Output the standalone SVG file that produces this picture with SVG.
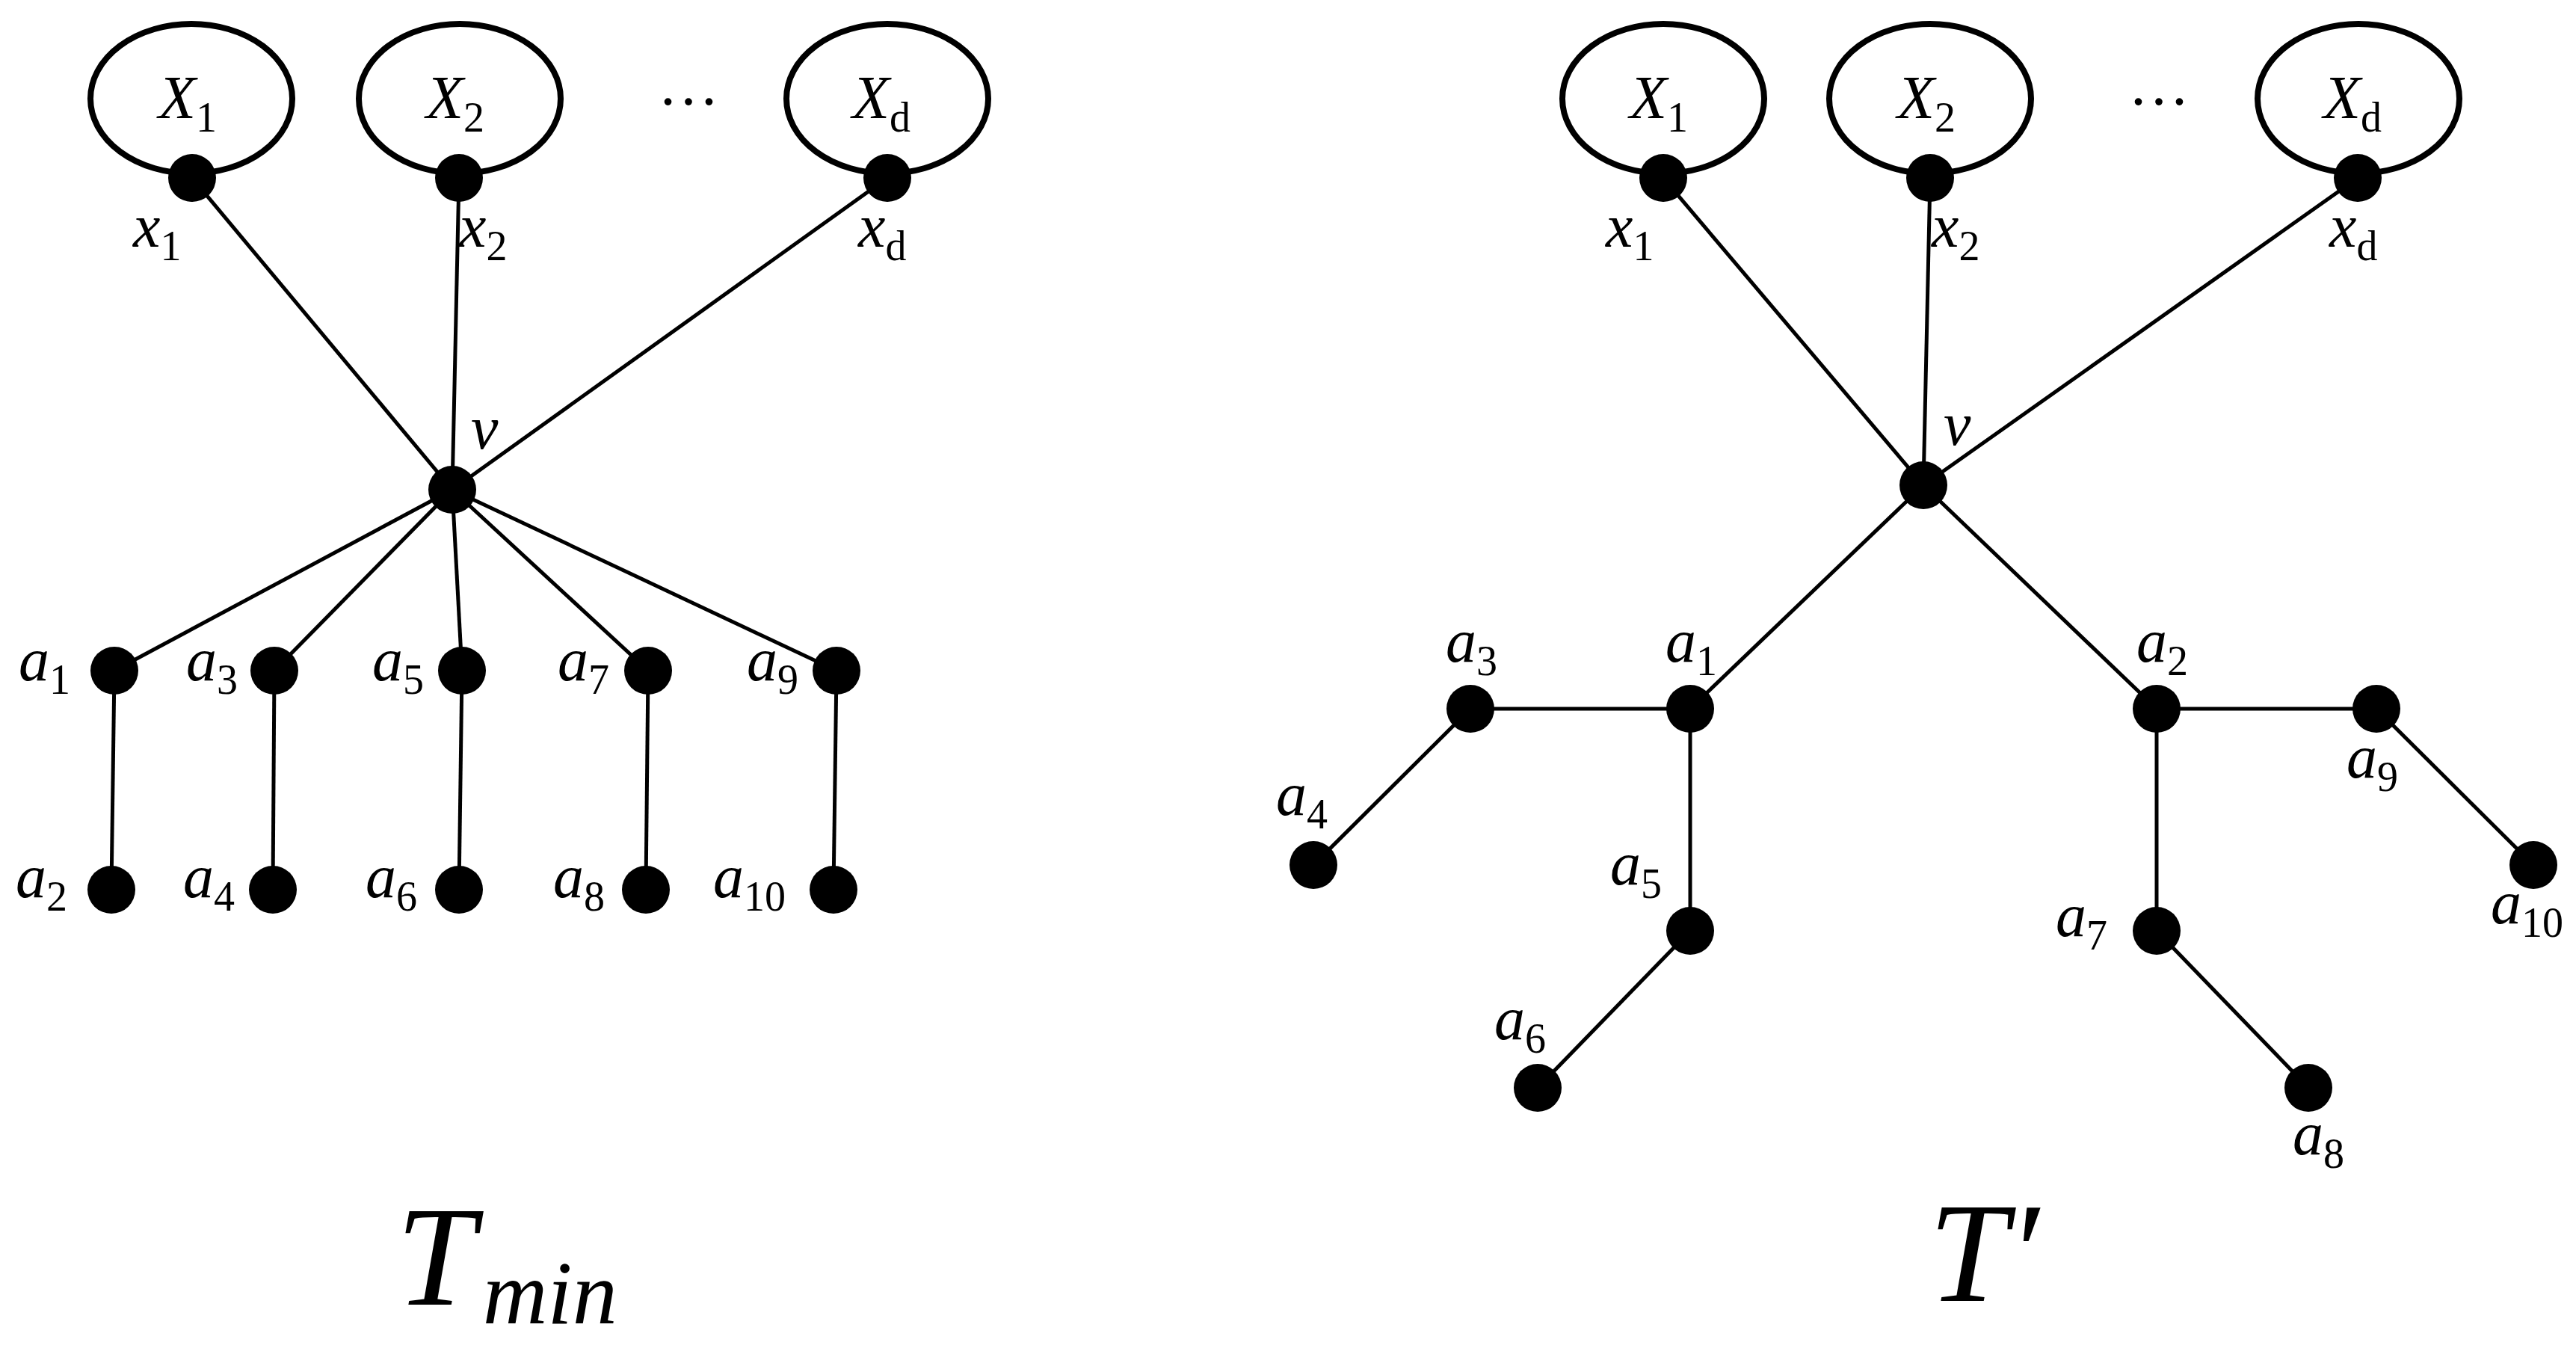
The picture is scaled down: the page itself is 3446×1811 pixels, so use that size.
<svg xmlns="http://www.w3.org/2000/svg" width="3446" height="1811" viewBox="0 0 3446 1811">
<style>
.set{fill:none;stroke:#000;stroke-width:8}
.e{stroke:#000;stroke-width:5;fill:none}
.n{fill:#000}
text{font-family:"Liberation Serif","Times New Roman",serif;font-style:italic;font-size:82px;fill:#000}
.s{font-size:56px;font-style:normal}
.t{font-size:190px}
.ts{font-size:120px}
.dots{font-style:normal}
</style>
<rect width="3446" height="1811" fill="#fff"/>
<g id="connectors">
<line class="e" x1="257" y1="238" x2="605" y2="655"/>
<line class="e" x1="614" y1="238" x2="605" y2="655"/>
<line class="e" x1="1187" y1="238" x2="605" y2="655"/>
<line class="e" x1="605" y1="655" x2="153" y2="897"/>
<line class="e" x1="605" y1="655" x2="367" y2="897"/>
<line class="e" x1="605" y1="655" x2="618" y2="897"/>
<line class="e" x1="605" y1="655" x2="867" y2="897"/>
<line class="e" x1="605" y1="655" x2="1119" y2="897"/>
<line class="e" x1="153" y1="897" x2="149" y2="1190"/>
<line class="e" x1="367" y1="897" x2="365" y2="1190"/>
<line class="e" x1="618" y1="897" x2="614" y2="1190"/>
<line class="e" x1="867" y1="897" x2="864" y2="1190"/>
<line class="e" x1="1119" y1="897" x2="1115" y2="1190"/>
<line class="e" x1="2225" y1="238" x2="2573" y2="649"/>
<line class="e" x1="2582" y1="238" x2="2573" y2="649"/>
<line class="e" x1="3154" y1="238" x2="2573" y2="649"/>
<line class="e" x1="2573" y1="649" x2="2261" y2="948"/>
<line class="e" x1="2573" y1="649" x2="2885" y2="948"/>
<line class="e" x1="2261" y1="948" x2="1967" y2="948"/>
<line class="e" x1="1967" y1="948" x2="1757" y2="1157"/>
<line class="e" x1="2261" y1="948" x2="2261" y2="1245"/>
<line class="e" x1="2261" y1="1245" x2="2057" y2="1455"/>
<line class="e" x1="2885" y1="948" x2="3179" y2="948"/>
<line class="e" x1="3179" y1="948" x2="3389" y2="1157"/>
<line class="e" x1="2885" y1="948" x2="2885" y2="1245"/>
<line class="e" x1="2885" y1="1245" x2="3088" y2="1455"/>
</g>
<g id="left">
<g id="L_X1"><ellipse class="set" cx="256" cy="132" rx="135" ry="100"/><text x="212" y="158">X<tspan class="s" dy="18">1</tspan></text></g>
<g id="L_X2"><ellipse class="set" cx="615" cy="132" rx="135" ry="100"/><text x="570" y="158">X<tspan class="s" dy="18">2</tspan></text></g>
<g id="L_Xd"><ellipse class="set" cx="1187" cy="132" rx="135" ry="100"/><text x="1140" y="158">X<tspan class="s" dy="18">d</tspan></text></g>
<text class="dots" x="880" y="140">…</text>
<g id="L_x1"><circle class="n" cx="257" cy="238" r="32"/><text x="178" y="330">x<tspan class="s" dy="18">1</tspan></text></g>
<g id="L_x2"><circle class="n" cx="614" cy="238" r="32"/><text x="614" y="330">x<tspan class="s" dy="18">2</tspan></text></g>
<g id="L_xd"><circle class="n" cx="1187" cy="238" r="32"/><text x="1148" y="330">x<tspan class="s" dy="18">d</tspan></text></g>
<g id="L_v"><circle class="n" cx="605" cy="655" r="32"/><text x="630" y="600">v</text></g>
<g id="L_a1"><circle class="n" cx="153" cy="897" r="32"/><text x="25" y="910">a<tspan class="s" dy="18">1</tspan></text></g>
<g id="L_a3"><circle class="n" cx="367" cy="897" r="32"/><text x="249" y="910">a<tspan class="s" dy="18">3</tspan></text></g>
<g id="L_a5"><circle class="n" cx="618" cy="897" r="32"/><text x="498" y="910">a<tspan class="s" dy="18">5</tspan></text></g>
<g id="L_a7"><circle class="n" cx="867" cy="897" r="32"/><text x="746" y="910">a<tspan class="s" dy="18">7</tspan></text></g>
<g id="L_a9"><circle class="n" cx="1119" cy="897" r="32"/><text x="999" y="910">a<tspan class="s" dy="18">9</tspan></text></g>
<g id="L_a2"><circle class="n" cx="149" cy="1190" r="32"/><text x="21" y="1200">a<tspan class="s" dy="18">2</tspan></text></g>
<g id="L_a4"><circle class="n" cx="365" cy="1190" r="32"/><text x="245" y="1200">a<tspan class="s" dy="18">4</tspan></text></g>
<g id="L_a6"><circle class="n" cx="614" cy="1190" r="32"/><text x="489" y="1200">a<tspan class="s" dy="18">6</tspan></text></g>
<g id="L_a8"><circle class="n" cx="864" cy="1190" r="32"/><text x="740" y="1200">a<tspan class="s" dy="18">8</tspan></text></g>
<g id="L_a10"><circle class="n" cx="1115" cy="1190" r="32"/><text x="954" y="1200">a<tspan class="s" dy="18">10</tspan></text></g>
<text class="t" x="530" y="1745">T<tspan class="ts" dx="10" dy="25">min</tspan></text>
</g>
<g id="right">
<g id="R_X1"><ellipse class="set" cx="2225" cy="132" rx="135" ry="100"/><text x="2180" y="158">X<tspan class="s" dy="18">1</tspan></text></g>
<g id="R_X2"><ellipse class="set" cx="2582" cy="132" rx="135" ry="100"/><text x="2538" y="158">X<tspan class="s" dy="18">2</tspan></text></g>
<g id="R_Xd"><ellipse class="set" cx="3155" cy="132" rx="135" ry="100"/><text x="3108" y="158">X<tspan class="s" dy="18">d</tspan></text></g>
<text class="dots" x="2847" y="140">…</text>
<g id="R_x1"><circle class="n" cx="2225" cy="238" r="32"/><text x="2148" y="330">x<tspan class="s" dy="18">1</tspan></text></g>
<g id="R_x2"><circle class="n" cx="2582" cy="238" r="32"/><text x="2584" y="330">x<tspan class="s" dy="18">2</tspan></text></g>
<g id="R_xd"><circle class="n" cx="3154" cy="238" r="32"/><text x="3116" y="330">x<tspan class="s" dy="18">d</tspan></text></g>
<g id="R_v"><circle class="n" cx="2573" cy="649" r="32"/><text x="2600" y="595">v</text></g>
<g id="R_a1"><circle class="n" cx="2261" cy="948" r="32"/><text x="2228" y="885">a<tspan class="s" dy="18">1</tspan></text></g>
<g id="R_a3"><circle class="n" cx="1967" cy="948" r="32"/><text x="1934" y="885">a<tspan class="s" dy="18">3</tspan></text></g>
<g id="R_a4"><circle class="n" cx="1757" cy="1157" r="32"/><text x="1707" y="1090">a<tspan class="s" dy="18">4</tspan></text></g>
<g id="R_a5"><circle class="n" cx="2261" cy="1245" r="32"/><text x="2154" y="1183">a<tspan class="s" dy="18">5</tspan></text></g>
<g id="R_a6"><circle class="n" cx="2057" cy="1455" r="32"/><text x="1999" y="1390">a<tspan class="s" dy="18">6</tspan></text></g>
<g id="R_a2"><circle class="n" cx="2885" cy="948" r="32"/><text x="2858" y="885">a<tspan class="s" dy="18">2</tspan></text></g>
<g id="R_a9"><circle class="n" cx="3179" cy="948" r="32"/><text x="3139" y="1040">a<tspan class="s" dy="18">9</tspan></text></g>
<g id="R_a10"><circle class="n" cx="3389" cy="1157" r="32"/><text x="3332" y="1235">a<tspan class="s" dy="18">10</tspan></text></g>
<g id="R_a7"><circle class="n" cx="2885" cy="1245" r="32"/><text x="2750" y="1252">a<tspan class="s" dy="18">7</tspan></text></g>
<g id="R_a8"><circle class="n" cx="3088" cy="1455" r="32"/><text x="3067" y="1544">a<tspan class="s" dy="18">8</tspan></text></g>
<text class="t" x="2580" y="1740">T′</text>
</g>
</svg>
